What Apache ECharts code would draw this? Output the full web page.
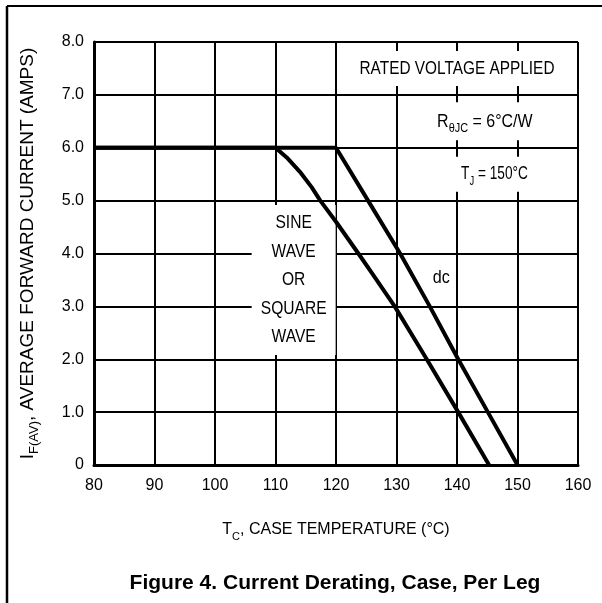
<!DOCTYPE html>
<html><head><meta charset="utf-8">
<script src="https://cdn.jsdelivr.net/npm/echarts@6/dist/echarts.min.js"></script>
<style>html,body{margin:0;padding:0;background:#fff}#c{width:602px;height:603px}</style>
</head><body><div id="c"></div>
<script>
// Data
const sineTemp = [80, 110, 112, 114, 116, 117.4, 120, 123.7, 126, 129.7, 135, 140.2, 145.3];
const sineAmps = [6.0, 6.0, 5.8, 5.55, 5.25, 5.0, 4.6, 4.0, 3.62, 3.0, 2.0, 1.0, 0];
const dcTemp = [80, 120, 125.3, 130.6, 135.5, 140.2, 145.1, 150];
const dcAmps = [6.0, 6.0, 5.0, 4.0, 3.0, 2.0, 1.0, 0];
const xTickLabels = ['80', '90', '100', '110', '120', '130', '140', '150', '160'];
const yTickLabels = ['0', '1.0', '2.0', '3.0', '4.0', '5.0', '6.0', '7.0', '8.0'];
const noteTexts = ['RATED VOLTAGE APPLIED', '{m|R}{s|θJC}{m| = 6°C/W}', '{m|T}{s|J}{m| = 150°C}', 'SINE\nWAVE\nOR\nSQUARE\nWAVE', 'dc'];
const noteTemp = [140, 144.6, 146.2, 113, 137.4];
const noteAmps = [7.5, 6.5, 5.5, 3.5, 3.55];

const FONT = '"Liberation Sans", Arial, Helvetica, sans-serif';

const chart = echarts.init(document.getElementById('c'), null, {renderer: 'canvas'});

function rich(size) {
  return {
    m: {fontFamily: FONT, fontSize: size, color: '#000', lineHeight: size + 8, verticalAlign: 'middle'},
    s: {fontFamily: FONT, fontSize: Math.round(size * 0.7), color: '#000', lineHeight: Math.round(size * 0.75), verticalAlign: 'bottom'}
  };
}

chart.setOption({
  animation: false,
  backgroundColor: '#fff',
  grid: {left: 94, right: 24, top: 42, bottom: 138, containLabel: false},
  xAxis: {
    type: 'value', min: 80, max: 160, interval: 10,
    name: '{m|T}{s|C}{m|, CASE TEMPERATURE (°C)}',
    nameLocation: 'middle', nameGap: 53,
    nameTextStyle: {rich: rich(16)},
    axisLine: {show: true, onZero: false, lineStyle: {color: '#000', width: 3}},
    axisTick: {show: false},
    axisLabel: {
      color: '#000', fontFamily: FONT, fontSize: 16, margin: 13,
      formatter: v => xTickLabels[Math.round((v - 80) / 10)]
    },
    splitLine: {show: true, lineStyle: {color: '#000', width: 2}}
  },
  yAxis: {
    type: 'value', min: 0, max: 8, interval: 1,
    name: '{m|I}{s|F(AV)}{m|, AVERAGE FORWARD CURRENT (AMPS)}',
    nameLocation: 'middle', nameGap: 53, nameRotate: 90,
    nameTextStyle: {rich: rich(19)},
    axisLine: {show: true, onZero: false, lineStyle: {color: '#000', width: 3}},
    axisTick: {show: false},
    axisLabel: {
      color: '#000', fontFamily: FONT, fontSize: 16, margin: 10,
      formatter: v => yTickLabels[Math.round(v)]
    },
    splitLine: {show: true, lineStyle: {color: '#000', width: 2}}
  },
  series: [
    {
      type: 'line', name: 'sine', showSymbol: false, symbol: 'none', z: 10,
      lineStyle: {color: '#000', width: 4},
      data: sineTemp.map((t, i) => [t, sineAmps[i]])
    },
    {
      type: 'line', name: 'dc', showSymbol: false, symbol: 'none', z: 10,
      lineStyle: {color: '#000', width: 4},
      data: dcTemp.map((t, i) => [t, dcAmps[i]])
    }
  ]
});

// Annotation boxes (white backgrounds that break the grid) – sizes in px
const boxW = [199, 112, 104, 84, 0];
const boxH = [35, 38, 35, 150, 0];
const lineH = [26, 26, 26, 28.5, 26];
const squeeze = [0.81, 0.84, 0.72, 0.82, 0.85];
const graphics = [
  {type: 'line', z: 1, shape: {x1: 7, y1: 6, x2: 602, y2: 6}, style: {stroke: '#000', lineWidth: 2}},
  {type: 'line', z: 1, shape: {x1: 7, y1: 6, x2: 7, y2: 603}, style: {stroke: '#000', lineWidth: 2.5}},
  {type: 'text', x: 335, y: 583, z: 20,
   style: {text: 'Figure 4. Current Derating, Case, Per Leg', fontFamily: FONT, fontWeight: 'bold', fontSize: 21,
           fill: '#000', align: 'center', verticalAlign: 'middle', textAlign: 'center', textVerticalAlign: 'middle'}}
];
noteTexts.forEach((txt, i) => {
  const p = chart.convertToPixel({gridIndex: 0}, [noteTemp[i], noteAmps[i]]);
  if (boxW[i] > 0) {
    graphics.push({type: 'rect', z: 1,
      shape: {x: p[0] - boxW[i] / 2, y: p[1] - boxH[i] / 2, width: boxW[i], height: boxH[i]},
      style: {fill: '#fff'}});
  }
  graphics.push({type: 'text', x: p[0], y: p[1], z: 20, scaleX: squeeze[i],
    style: {text: txt, rich: rich(19), fontFamily: FONT, fontSize: 19, lineHeight: lineH[i], fill: '#000',
            align: 'center', verticalAlign: 'middle', textAlign: 'center', textVerticalAlign: 'middle'}});
});
chart.setOption({graphic: graphics});
</script>
</body></html>
